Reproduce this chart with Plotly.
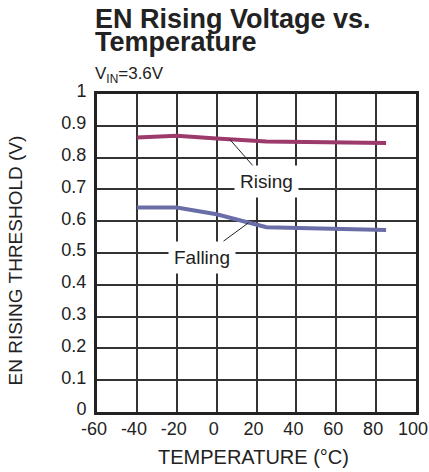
import plotly.graph_objects as go

temps = [-40, -20, 0, 25, 85]
rising = [0.863, 0.869, 0.860, 0.851, 0.846]
falling = [0.643, 0.643, 0.622, 0.581, 0.572]

x_ticks = [-60, -40, -20, 0, 20, 40, 60, 80, 100]
y_ticks = [0, 0.1, 0.2, 0.3, 0.4, 0.5, 0.6, 0.7, 0.8, 0.9, 1]
y_labels = ["0", "0.1", "0.2", "0.3", "0.4", "0.5", "0.6", "0.7", "0.8", "0.9", "1"]

FONT = "Liberation Sans, Arial, sans-serif"
INK = "#222222"

fig = go.Figure()
fig.add_trace(go.Scatter(x=temps, y=rising, mode="lines",
                         line=dict(color="#9c3a6c", width=4), showlegend=False))
fig.add_trace(go.Scatter(x=temps, y=falling, mode="lines",
                         line=dict(color="#6a6ea6", width=4), showlegend=False))

fig.update_layout(
    width=429, height=472,
    margin=dict(l=97, r=13, t=94, b=60),
    paper_bgcolor="white", plot_bgcolor="white",
    font=dict(family=FONT, color=INK, size=18),
    xaxis=dict(range=[-60, 100], tickvals=x_ticks, ticktext=[str(v) for v in x_ticks],
               showgrid=True, gridcolor="#333333", gridwidth=1.5,
               showline=True, linecolor=INK, linewidth=3, mirror=True,
               ticks="", zeroline=False, fixedrange=True, automargin=False,
               tickfont=dict(size=18), ticklabelshift=-3, ticklabelstandoff=-2),
    yaxis=dict(range=[0, 1], tickvals=y_ticks, ticktext=y_labels,
               showgrid=True, gridcolor="#333333", gridwidth=1.5,
               showline=True, linecolor=INK, linewidth=3, mirror=True,
               ticks="", zeroline=False, fixedrange=True, automargin=False,
               tickfont=dict(size=18), ticklabelstandoff=4, ticklabelshift=-3),
)

# axis titles
fig.add_annotation(xref="paper", yref="paper", x=0.5, y=0, xanchor="center", yanchor="top",
                   xshift=-3, yshift=-32, text="TEMPERATURE (°C)", showarrow=False,
                   font=dict(size=20, color=INK))
fig.add_annotation(xref="paper", yref="paper", x=0, y=0.5, xanchor="right", yanchor="middle",
                   xshift=-70, yshift=-8, text="EN RISING THRESHOLD (V)", textangle=-90,
                   showarrow=False, font=dict(size=19, color=INK))

# titles
fig.add_annotation(xref="paper", yref="paper", x=0, y=1, xanchor="left", yanchor="bottom",
                   xshift=-4, yshift=58,
                   text="<b>EN Rising Voltage vs.</b>", showarrow=False,
                   font=dict(size=27, color=INK))
fig.add_annotation(xref="paper", yref="paper", x=0, y=1, xanchor="left", yanchor="bottom",
                   xshift=-4, yshift=35,
                   text="<b>Temperature</b>", showarrow=False,
                   font=dict(size=27, color=INK))
fig.add_annotation(xref="paper", yref="paper", x=0, y=1, xanchor="left", yanchor="bottom",
                   xshift=-4, yshift=6,
                   text="V<sub>IN</sub>=3.6V", showarrow=False,
                   font=dict(size=17, color=INK))

fig.add_annotation(x=6.5, y=0.858, ax=25.1, ay=0.725, axref="x", ayref="y",
                   text="Rising", showarrow=True, arrowhead=0, arrowwidth=1,
                   arrowcolor=INK, bgcolor="white", borderpad=5,
                   font=dict(size=19, color=INK))
fig.add_annotation(x=16, y=0.595, ax=-7.5, ay=0.487, axref="x", ayref="y",
                   text="Falling", showarrow=True, arrowhead=0, arrowwidth=1,
                   arrowcolor=INK, bgcolor="white", borderpad=5,
                   font=dict(size=19, color=INK))

fig.write_html("out.html", config={"displayModeBar": False},
               post_script="document.body.style.margin='0';")
